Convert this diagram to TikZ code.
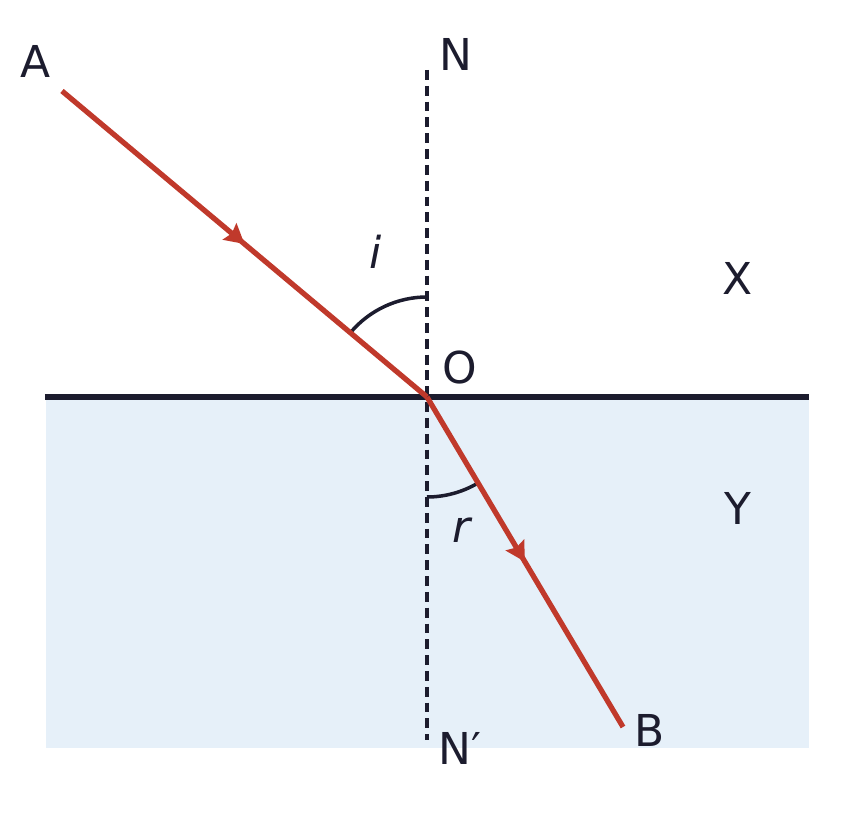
\documentclass[tikz,border=0pt]{standalone}
\usepackage{fontspec}
\setmainfont{DejaVu Sans}
\usetikzlibrary{arrows.meta,decorations.markings}
\definecolor{RayRed}{HTML}{C0392B}
\definecolor{InkNavy}{HTML}{1C1C2E}
\definecolor{WaterBlue}{HTML}{E6F0F9}
\tikzset{
  ray/.style={draw=RayRed,line width=1.5pt,
    postaction={decorate},
    decoration={markings,mark=at position 0.5 with {\arrow{Stealth[length=5.5pt,width=6pt,inset=0.8pt]}}}},
  normal/.style={draw=InkNavy,line width=0.9pt,dash pattern=on 2.8pt off 1.7pt},
  lbl/.style={text=InkNavy,font=\fontsize{12.5}{14}\selectfont,inner sep=0pt},
}
\begin{document}
\begin{tikzpicture}
        \useasboundingbox (-4.27,-4.21) rectangle (4.20,3.97);
        \fill[WaterBlue] (-3.81,-3.51) rectangle (3.82,0);
        \coordinate (O) at (0,0);
        \coordinate (A) at (-3.65,3.06);
        \coordinate (B) at (1.96,-3.30);
        \coordinate (n) at (0,3.27);
        \coordinate (n') at (0,-3.43);
        \coordinate (sl) at (-3.82,0);
        \coordinate (sr) at (3.82,0);
        \draw[normal] (n) -- (n');
        \draw[InkNavy,line width=1.9pt] (sl) -- (sr);
        % angle arcs
        \draw[InkNavy,line width=1pt] (0,1) arc[start angle=90,end angle=140,radius=1];
        \draw[InkNavy,line width=1pt] (0,-1) arc[start angle=270,end angle=300.7,radius=1];
        \draw[ray] (A) -- (O);
        \draw[ray] (O) -- (B);
        \node[lbl] (la) at (-3.91,3.35) {A};
        \node[lbl] (ln) at (0.29,3.42) {N};
        \node[lbl] (li) at (-0.51,1.45) {\itshape i};
        \node[lbl] (lx) at (3.11,1.19) {X};
        \node[lbl] (lo) at (0.33,0.29) {O};
        \node[lbl] (ly) at (3.11,-1.11) {Y};
        \node[lbl] (lr) at (0.35,-1.33) {\itshape r};
        \node[lbl] (lnp) at (0.33,-3.51) {N′};
        \node[lbl] (lb) at (2.23,-3.33) {B};
\end{tikzpicture}
\end{document}
